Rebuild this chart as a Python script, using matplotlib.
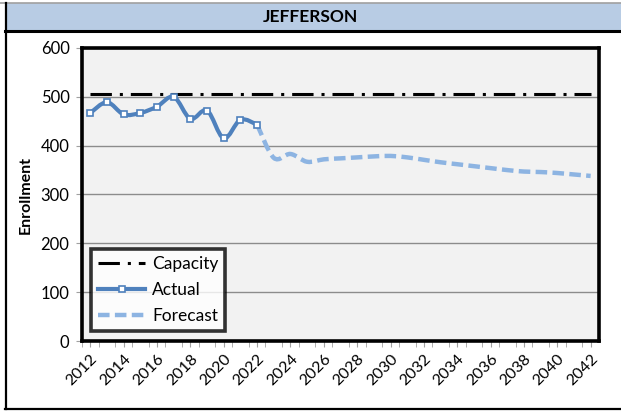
import numpy as np
import matplotlib.pyplot as plt
from matplotlib.patches import Rectangle, PathPatch
from matplotlib.path import Path
from matplotlib.lines import Line2D

# -----------------------
# Data
# -----------------------
YEARS = list(range(2012, 2043))
ACTUAL_YEARS = list(range(2012, 2023))
ACTUAL = [467, 489, 464, 467, 480, 500, 455, 472, 415, 453, 443]
FORECAST_YEARS = list(range(2022, 2043))
FORECAST = [443, 375, 383, 367, 372, 374, 376, 378, 379, 376, 371,
            366, 362, 358, 354, 350, 347, 346, 344, 341, 338]
CAPACITY = 505
TITLE = "JEFFERSON"
YLABEL = "Enrollment"

FONT = ["Lato", "DejaVu Sans"]
plt.rcParams["font.family"] = FONT

CAP_DASH = (7, 2.6, 1, 2.6)
FC_DASH = (0, (2.6, 1.2))


def smooth_path(x, y, t=1/6):
    # Excel-style smoothed line: cubic bezier through the points
    x = np.asarray(x, float); y = np.asarray(y, float)
    verts = [(x[0], y[0])]
    codes = [Path.MOVETO]
    n = len(x)
    for i in range(n - 1):
        x0, y0 = (x[i-1], y[i-1]) if i > 0 else (x[i], y[i])
        x3, y3 = (x[i+2], y[i+2]) if i + 2 < n else (x[i+1], y[i+1])
        c1 = (x[i] + (x[i+1] - x0) * t, y[i] + (y[i+1] - y0) * t)
        c2 = (x[i+1] - (x3 - x[i]) * t, y[i+1] - (y3 - y[i]) * t)
        verts += [c1, c2, (x[i+1], y[i+1])]
        codes += [Path.CURVE4] * 3
    return Path(verts, codes)


W, H = 621, 411
fig = plt.figure(figsize=(W / 100, H / 100), dpi=100)

# title bar + outer frame
fig.patches.append(Rectangle((5 / W, 0), 1, 1 - 3 / H, transform=fig.transFigure,
                             facecolor="white", edgecolor="none", zorder=-3))
fig.patches.append(Rectangle((5 / W, 1 - 31 / H), 1, 28 / H, transform=fig.transFigure,
                             facecolor="#B8CCE4", edgecolor="none", zorder=-2))
fig.add_artist(Line2D([5 / W, 1], [1 - 31 / H] * 2, color="black", lw=2.2))
fig.add_artist(Line2D([0, 1], [1 - 3 / H] * 2, color="#A0A0A0", lw=1.2))
fig.add_artist(Line2D([5.5 / W] * 2, [2 / H, 1 - 3 / H], color="black", lw=1.6))
fig.add_artist(Line2D([5 / W, 1], [2 / H] * 2, color="black", lw=1.6))
fig.text(0.5, 1 - 17 / H, TITLE, ha="center", va="center",
         fontsize=12.5, fontweight="bold")

ax = fig.add_axes([82 / W, (H - 341) / H, (599 - 82) / W, (341 - 48) / H])
ax.set_facecolor("#F2F2F2")

xi = np.arange(len(YEARS))
ax.set_xlim(-0.5, len(YEARS) - 0.5)
ax.set_ylim(0, 600)
ax.set_yticks(range(0, 601, 100))
ax.yaxis.grid(True, color="#8C8C8C", lw=1.0)
ax.set_axisbelow(True)

# capacity
ax.plot(xi, [CAPACITY] * len(YEARS), color="black", lw=2.2,
        dashes=CAP_DASH, zorder=3)

# forecast (smoothed)
fx = [YEARS.index(yr) for yr in FORECAST_YEARS]
ax.add_patch(PathPatch(smooth_path(fx, FORECAST), facecolor="none",
                       edgecolor="#8DB4E2", lw=3.2, linestyle=FC_DASH,
                       capstyle="butt", zorder=4))

# actual (smoothed) with square markers
axi = [YEARS.index(yr) for yr in ACTUAL_YEARS]
ax.add_patch(PathPatch(smooth_path(axi, ACTUAL), facecolor="none",
                       edgecolor="#4F81BD", lw=3.0, zorder=5))
ax.plot(axi, ACTUAL, ls="none", marker="s", ms=5, mfc="white",
        mec="#4F81BD", mew=1.2, zorder=6)

ax.set_xticks(xi[::2])
ax.set_xticklabels([str(y) for y in YEARS[::2]], rotation=45,
                   ha="right", rotation_mode="anchor", fontsize=11.5)
ax.set_xticks(xi - 0.5, minor=True)
ax.tick_params(axis="x", which="both", length=4, color="#A0A0A0", pad=4)
ax.tick_params(axis="y", length=4, color="#A0A0A0", labelsize=12, pad=5)
ax.set_ylabel(YLABEL, fontsize=11.5, fontweight="bold", labelpad=6)

for s in ax.spines.values():
    s.set_linewidth(2.6)
    s.set_color("black")

handles = [
    Line2D([], [], color="black", lw=2.2, dashes=CAP_DASH),
    Line2D([], [], color="#4F81BD", lw=3.0, marker="s", ms=5,
           mfc="white", mec="#4F81BD", mew=1.2),
    Line2D([], [], color="#8DB4E2", lw=3.2, linestyle=FC_DASH),
]
leg = ax.legend(handles, ["Capacity", "Actual", "Forecast"], loc="lower left",
                bbox_to_anchor=(0.008, 0.015), fontsize=12.5, frameon=True,
                fancybox=False, handlelength=2.7, handletextpad=0.4,
                borderpad=0.4, labelspacing=0.6, borderaxespad=0.3)
leg.get_frame().set_edgecolor("black")
leg.get_frame().set_linewidth(2.6)
leg.get_frame().set_facecolor("white")
leg.set_zorder(10)

fig.savefig("out.png", dpi=100)
